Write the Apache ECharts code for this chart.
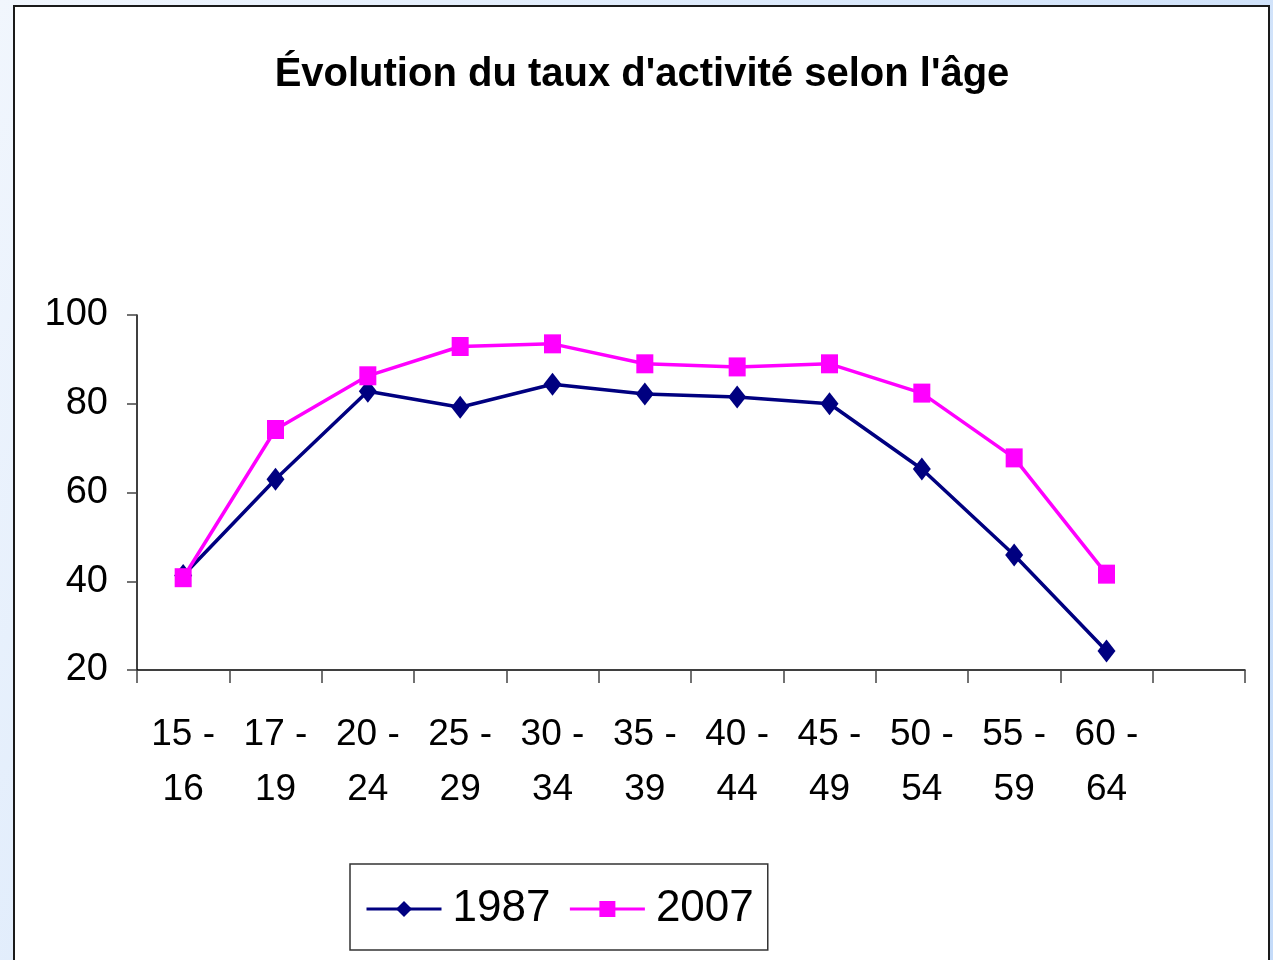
<!DOCTYPE html>
<html>
<head>
<meta charset="utf-8">
<script src="https://cdn.jsdelivr.net/npm/echarts@6/dist/echarts.min.js"></script>
<style>
  html, body { margin: 0; padding: 0; width: 1273px; height: 960px; overflow: hidden; }
  body { background: linear-gradient(120deg, #f1f6fd 0%, #dbe9fb 45%, #c4dbf9 100%); position: relative; }
  #panel { position: absolute; left: 13px; top: 5px; width: 1253px; height: 980px; background: #fff; border: 2px solid #1a1a1a; }
  #chart { position: absolute; left: 0; top: 0; width: 1273px; height: 960px; }
</style>
</head>
<body>
<div id="panel"></div>
<div id="chart"></div>
<script>
// tranches d'âge (la dernière case est vide, comme dans l'original)
const ages = ["15 -\n16", "17 -\n19", "20 -\n24", "25 -\n29", "30 -\n34", "35 -\n39",
  "40 -\n44", "45 -\n49", "50 -\n54", "55 -\n59", "60 -\n64", ""];
const taux1987 = [41.3, 63.0, 82.8, 79.2, 84.4, 82.2, 81.5, 80.0, 65.3, 45.9, 24.3];
const taux2007 = [40.8, 74.2, 86.3, 92.9, 93.5, 89.0, 88.3, 89.0, 82.4, 67.8, 41.6];
const yTicks = [20, 40, 60, 80, 100];

const font = '"Liberation Sans Narrow", "Arial Narrow", "Liberation Sans", Arial, sans-serif';

const chart = echarts.init(document.getElementById("chart"));
chart.setOption({
  animation: false,
  textStyle: { fontFamily: font },
  title: {
    text: "Évolution du taux d'activité selon l'âge",
    left: 637,
    textAlign: "center",
    top: 50,
    textStyle: { fontFamily: font, fontSize: 40, fontWeight: "bold", color: "#000" }
  },
  grid: { left: 137, right: 28, top: 315, bottom: 290, containLabel: false },
  legend: {
    left: 350,
    top: 864,
    padding: [20, 14, 16, 15],
    itemGap: 18,
    itemWidth: 75,
    itemHeight: 20,
    borderColor: "#333",
    borderWidth: 1.5,
    backgroundColor: "#fff",
    lineStyle: { width: 3 },
    textStyle: { fontFamily: font, fontSize: 44, lineHeight: 50, color: "#000", padding: [0, 0, 0, 6] },
    data: ["1987", "2007"]
  },
  xAxis: {
    type: "category",
    data: ages,
    boundaryGap: true,
    axisLine: { lineStyle: { color: "#000", width: 1.5 } },
    axisTick: { show: true, length: 13, alignWithLabel: false, lineStyle: { color: "#444", width: 1.5 } },
    axisLabel: {
      interval: 0,
      margin: 37,
      fontSize: 37,
      lineHeight: 55,
      color: "#000",
      fontFamily: font
    }
  },
  yAxis: {
    type: "value",
    min: yTicks[0],
    max: yTicks[yTicks.length - 1],
    interval: 20,
    axisLine: { show: true, lineStyle: { color: "#000", width: 1.5 } },
    axisTick: { show: true, length: 10, lineStyle: { color: "#444", width: 1.5 } },
    splitLine: { show: false },
    axisLabel: { margin: 29, fontSize: 38, color: "#000", fontFamily: font }
  },
  series: [
    {
      name: "1987",
      type: "line",
      data: taux1987,
      color: "#000080",
      symbol: "diamond",
      symbolSize: [18, 23],
      lineStyle: { width: 3.5, color: "#000080" },
      itemStyle: { color: "#000080" },
      z: 2
    },
    {
      name: "2007",
      type: "line",
      data: taux2007,
      color: "#ff00ff",
      symbol: "rect",
      symbolSize: [17, 19],
      lineStyle: { width: 3.5, color: "#ff00ff" },
      itemStyle: { color: "#ff00ff" },
      z: 3
    }
  ]
});
</script>
</body>
</html>
